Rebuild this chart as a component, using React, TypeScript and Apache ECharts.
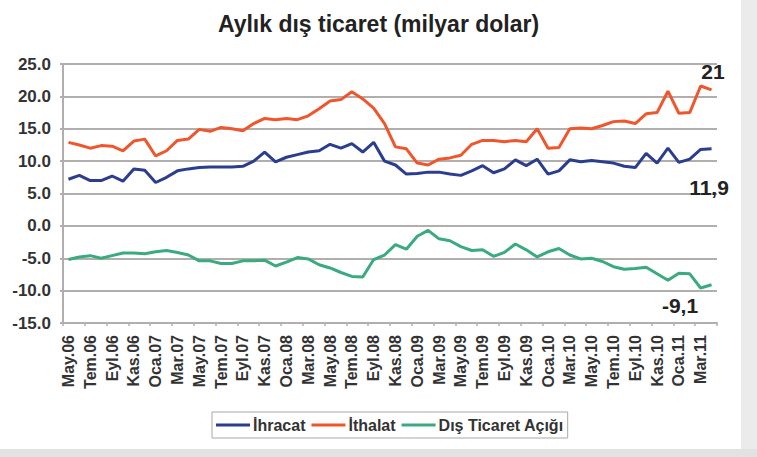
import React, { useEffect, useRef } from "react";
import * as echarts from "echarts";

const months = [
  "May.06", "Haz.06", "Tem.06", "Ağu.06", "Eyl.06", "Eki.06", "Kas.06", "Ara.06",
  "Oca.07", "Şub.07", "Mar.07", "Nis.07", "May.07", "Haz.07", "Tem.07", "Ağu.07", "Eyl.07", "Eki.07", "Kas.07", "Ara.07",
  "Oca.08", "Şub.08", "Mar.08", "Nis.08", "May.08", "Haz.08", "Tem.08", "Ağu.08", "Eyl.08", "Eki.08", "Kas.08", "Ara.08",
  "Oca.09", "Şub.09", "Mar.09", "Nis.09", "May.09", "Haz.09", "Tem.09", "Ağu.09", "Eyl.09", "Eki.09", "Kas.09", "Ara.09",
  "Oca.10", "Şub.10", "Mar.10", "Nis.10", "May.10", "Haz.10", "Tem.10", "Ağu.10", "Eyl.10", "Eki.10", "Kas.10", "Ara.10",
  "Oca.11", "Şub.11", "Mar.11", "Nis.11",
];

const ihracat = [
  7.2, 7.8, 7.0, 7.0, 7.7, 6.9, 8.8, 8.6, 6.7, 7.5, 8.5, 8.8, 9.0, 9.1, 9.1, 9.1,
  9.2, 10.0, 11.4, 9.9, 10.6, 11.0, 11.4, 11.6, 12.6, 12.0, 12.7, 11.4, 12.9, 10.0,
  9.4, 8.0, 8.1, 8.3, 8.3, 8.0, 7.8, 8.5, 9.3, 8.2, 8.8, 10.2, 9.3, 10.3, 8.0,
  8.5, 10.2, 9.9, 10.1, 9.9, 9.7, 9.2, 9.0, 11.2, 9.7, 12.0, 9.8, 10.3, 11.8, 11.9,
];

const ithalat = [
  12.9, 12.5, 12.0, 12.4, 12.3, 11.6, 13.1, 13.4, 10.8, 11.6, 13.2, 13.4, 14.9, 14.6, 15.2, 15.0,
  14.7, 15.8, 16.6, 16.4, 16.6, 16.4, 17.0, 18.1, 19.3, 19.5, 20.7, 19.6, 18.2, 15.8,
  12.2, 11.9, 9.7, 9.4, 10.3, 10.5, 10.9, 12.6, 13.2, 13.2, 13.0, 13.2, 13.0, 15.0, 12.0,
  12.1, 15.0, 15.1, 15.0, 15.5, 16.1, 16.2, 15.8, 17.3, 17.5, 20.8, 17.4, 17.5, 21.6, 21.0,
];

const acik = [
  -5.2, -4.8, -4.6, -5.0, -4.6, -4.2, -4.2, -4.3, -4.0, -3.8, -4.1, -4.5, -5.4, -5.4, -5.8, -5.8,
  -5.4, -5.4, -5.3, -6.2, -5.6, -4.9, -5.1, -6.0, -6.5, -7.2, -7.8, -7.9, -5.2, -4.5,
  -2.9, -3.6, -1.6, -0.7, -2.0, -2.3, -3.2, -3.8, -3.7, -4.7, -4.1, -2.8, -3.7, -4.8, -4.0,
  -3.5, -4.5, -5.1, -5.0, -5.5, -6.3, -6.7, -6.6, -6.4, -7.4, -8.4, -7.3, -7.4, -9.6, -9.1,
];

const seriesNames = ["İhracat", "İthalat", "Dış Ticaret Açığı"];
const seriesColors = ["#2a3d8f", "#f0562c", "#3aaa80"];
const annotations = [
  { text: "21", x: 713, y: 71 },
  { text: "11,9", x: 709, y: 187 },
  { text: "-9,1", x: 680, y: 305 },
];

const FONT = "'Liberation Sans', Arial, sans-serif";
const GRID = "#b3aeae";

export default function App() {
  const ref = useRef<HTMLDivElement>(null);
  useEffect(() => {
    document.body.style.margin = "0";
    const chart = echarts.init(ref.current!, null, { renderer: "svg" });
    const data = [ihracat, ithalat, acik];
    chart.setOption({
      animation: false,
      backgroundColor: "#ffffff",
      textStyle: { fontFamily: FONT },
      title: {
        text: "Aylık dış ticaret (milyar dolar)",
        left: "center",
        top: 7,
        textStyle: { fontFamily: FONT, fontSize: 23, fontWeight: "bold", color: "#222" },
      },
      legend: {
        data: seriesNames,
        left: 212,
        top: 412,
        icon: "rect",
        itemWidth: 34,
        itemHeight: 3,
        itemGap: 6,
        padding: [5, 4, 5, 4],
        borderColor: "#a8a8a8",
        borderWidth: 1,
        textStyle: { fontFamily: FONT, fontSize: 16, fontWeight: "bold", color: "#333", padding: [0, 0, 0, -2] },
      },
      grid: { left: 63, right: 40, top: 64, bottom: 134 },
      xAxis: [
        {
          type: "category",
          data: months,
          boundaryGap: true,
          axisLine: { show: false },
          axisTick: { show: false },
          axisLabel: {
            interval: 1,
            rotate: 90,
            margin: 12,
            fontFamily: FONT,
            fontSize: 16,
            fontWeight: "bold",
            color: "#333",
          },
          splitLine: { show: false },
        },
        {
          type: "category",
          data: months,
          position: "bottom",
          boundaryGap: true,
          axisLine: { show: true, onZero: true, lineStyle: { color: GRID, width: 2 } },
          axisTick: { show: true, interval: 1, length: 3, lineStyle: { color: GRID, width: 1.5 } },
          axisLabel: { show: false },
          splitLine: { show: false },
        },
      ],
      yAxis: {
        type: "value",
        min: -15,
        max: 25,
        interval: 5,
        axisLine: { show: true, lineStyle: { color: GRID, width: 2 } },
        axisTick: { show: true, length: 3, lineStyle: { color: GRID, width: 2 } },
        axisLabel: {
          formatter: (v: number) => v.toFixed(1),
          margin: 12,
          fontFamily: FONT,
          fontSize: 17,
          fontWeight: "bold",
          color: "#333",
        },
        splitLine: { lineStyle: { color: GRID, width: 2 } },
      },
      series: seriesNames.map((name, i) => ({
        name,
        type: "line",
        data: data[i],
        symbol: "none",
        lineStyle: { color: seriesColors[i], width: 3 },
        itemStyle: { color: seriesColors[i] },
        z: 3 + i,
      })),
      graphic: [
        { type: "rect", left: 741, top: 0, shape: { width: 16, height: 457 }, style: { fill: "#ebebeb" }, z: -1 },
        { type: "rect", left: 0, top: 449, shape: { width: 757, height: 8 }, style: { fill: "#e2e2e2" }, z: -1 },
        ...annotations.map((a) => ({
          type: "text",
          x: a.x,
          y: a.y,
          z: 10,
          style: {
            text: a.text,
            fontFamily: FONT,
            fontSize: 21,
            fontWeight: "bold",
            fill: "#222",
            align: "center",
            verticalAlign: "middle",
          },
        })),
      ],
    });
    return () => chart.dispose();
  }, []);
  return <div ref={ref} style={{ width: 757, height: 457 }} />;
}
